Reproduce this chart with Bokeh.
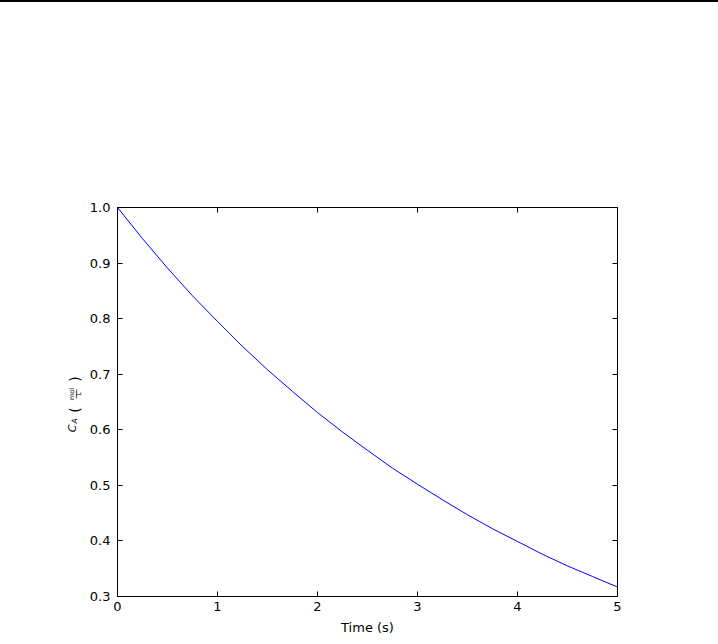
import math
from bokeh.plotting import figure
from bokeh.models import LinearAxis, FixedTicker, Range1d, Label
from bokeh.embed import file_html
from bokeh.resources import INLINE

# ---- data ----
time_s = [0.0, 0.25, 0.5, 0.75, 1.0, 1.25, 1.5, 1.75, 2.0, 2.25, 2.5,
          2.75, 3.0, 3.25, 3.5, 3.75, 4.0, 4.25, 4.5, 4.75, 5.0]
conc_A = [1.000, 0.944, 0.891, 0.841, 0.795, 0.750, 0.708, 0.669, 0.631, 0.596, 0.563,
          0.531, 0.502, 0.474, 0.447, 0.422, 0.399, 0.376, 0.355, 0.336, 0.317]
x_ticks = [0, 1, 2, 3, 4, 5]
x_tick_labels = ["0", "1", "2", "3", "4", "5"]
y_ticks = [0.3, 0.4, 0.5, 0.6, 0.7, 0.8, 0.9, 1.0]
y_tick_labels = ["0.3", "0.4", "0.5", "0.6", "0.7", "0.8", "0.9", "1.0"]
x_label = "Time (s)"

FONT = "DejaVu Sans"
W, H = 718, 644
FL, FR, FT, FB = 117, 617, 207, 596   # frame edges in canvas px

p = figure(width=W, height=H, output_backend="svg", toolbar_location=None,
           x_range=Range1d(0, 5), y_range=Range1d(0.3, 1.0),
           min_border_left=FL, min_border_right=W - FR,
           min_border_top=FT, min_border_bottom=H - FB,
           x_axis_label=x_label)
p.grid.visible = False
p.outline_line_color = "black"
p.outline_line_width = 1
p.background_fill_color = "white"
p.border_fill_color = "white"

p.line(time_s, conc_A, line_color="#0000ff", line_width=1)

def style_axis(ax, ticks, labels, show_labels=True):
    ax.ticker = FixedTicker(ticks=ticks)
    ax.major_label_overrides = {t: l for t, l in zip(ticks, labels)}
    ax.minor_tick_line_color = None
    ax.major_tick_in = 5
    ax.major_tick_out = 0
    ax.major_tick_line_color = "black"
    ax.axis_line_color = "black"
    ax.major_label_text_font = FONT
    ax.major_label_text_font_size = "13px"
    ax.major_label_text_color = "black" if show_labels else None

style_axis(p.xaxis[0], x_ticks, x_tick_labels)
style_axis(p.yaxis[0], y_ticks, y_tick_labels)
p.xaxis[0].major_label_standoff = 5
p.yaxis[0].major_label_standoff = 7
p.xaxis[0].axis_label_text_font = FONT
p.xaxis[0].axis_label_text_font_size = "13px"
p.xaxis[0].axis_label_text_font_style = "normal"
p.xaxis[0].axis_label_text_color = "black"
p.xaxis[0].axis_label_standoff = 6

top_ax = LinearAxis()
right_ax = LinearAxis()
style_axis(top_ax, x_ticks, x_tick_labels, show_labels=False)
style_axis(right_ax, y_ticks, y_tick_labels, show_labels=False)
p.add_layout(top_ax, "above")
p.add_layout(right_ax, "right")

# ---- composite y-axis label C_A (mol / L), rotated; canvas px (y from top) ----
def lab(text, px, py, size, style="normal"):
    p.add_layout(Label(x=px, y=py, x_units="canvas", y_units="canvas",
                       text=text, angle=math.pi / 2,
                       text_align="center", text_baseline="middle",
                       text_font=FONT, text_font_size=size,
                       text_font_style=style, text_color="black"), "above")

lab("C", 72, 428, "11px", "italic")
lab("A", 74, 420.5, "7.5px", "italic")
lab("(", 74.5, 409.5, "14px")
lab(")", 74.5, 378.5, "14px")
lab("mol", 71.3, 393.5, "6.5px")
lab("\u2014", 74.8, 393.5, "10px")
lab("L", 78, 393.5, "6.5px")

html = file_html(p, INLINE)
extra = ("<style>html,body{overflow:hidden}</style>"
         "<div style='position:fixed;top:0;left:0;width:100%;height:2px;background:#000'></div>")
html = html.replace("</body>", extra + "</body>")
open("out.html", "w").write(html)
